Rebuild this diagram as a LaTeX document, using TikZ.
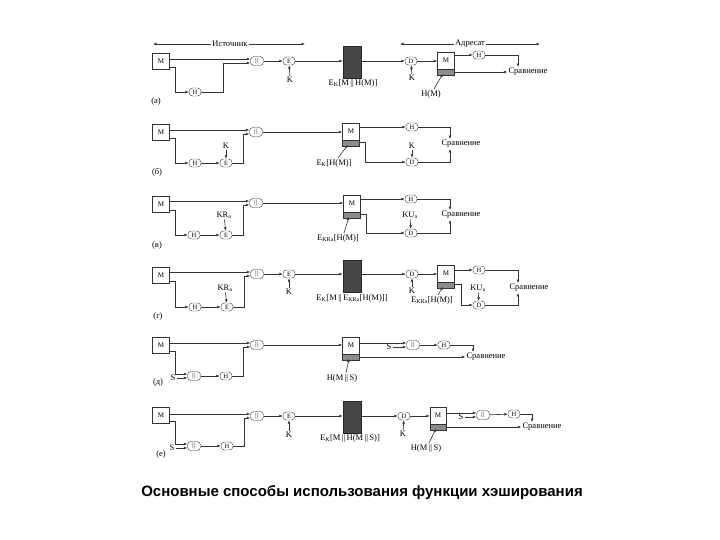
\documentclass[tikz,border=0pt]{standalone}
\usepackage{fontspec}
\setmainfont{Liberation Serif}
\newfontfamily\capfont{Liberation Sans}
\usetikzlibrary{arrows.meta, positioning, calc}
\newcommand{\catbar}{\textbar\kern0.8pt\textbar}
\tikzset{
  srcbox/.style={
    rectangle, draw=black!80, fill=white,
    minimum width=17pt, minimum height=16pt, inner sep=0pt,
    font=\fontsize{7}{8}\selectfont
  },
  recvbox/.style={
    rectangle, draw=black!80, fill=white,
    minimum width=17pt, minimum height=23pt, inner sep=0pt,
    text depth=8pt, font=\fontsize{7}{8}\selectfont,
    path picture={
      \fill[black!45] (path picture bounding box.south west)
        rectangle ([yshift=6pt]path picture bounding box.south east);
      \draw[black!80] ([yshift=6pt]path picture bounding box.south west)
        -- ([yshift=6pt]path picture bounding box.south east);
    }
  },
  opnode/.style={
    rectangle, rounded corners=3.5pt, draw=black!80, fill=white,
    minimum width=12pt, minimum height=8pt, inner sep=0pt,
    font=\fontsize{6.5}{7}\selectfont
  },
  catnode/.style={opnode, minimum width=13pt, minimum height=9pt},
  cipherbox/.style={
    rectangle, draw=black!85, fill=black!72,
    minimum width=18pt, minimum height=32pt
  },
  flowarrow/.style={-{Latex[length=3.5pt,width=2.8pt]}, black!80, line width=0.6pt},
  lbl/.style={font=\fontsize{8.5}{9}\selectfont, inner sep=1pt},
}

\begin{document}
\begin{tikzpicture}[x=1pt,y=-1pt]
\useasboundingbox (0,0) rectangle (720,540);

\node[lbl](srchead) at (230,44){Источник};
\coordinate (srcl) at (153,44);
\coordinate (srcr) at (305,44);
\draw[flowarrow](srchead.west)--(srcl);
\draw[flowarrow](srchead.east)--(srcr);
\node[lbl](dsthead) at (470,44){Адресат};
\coordinate (dstl) at (400,44);
\coordinate (dstr) at (540,44);
\draw[flowarrow](dsthead.west)--(dstl);
\draw[flowarrow](dsthead.east)--(dstr);

% (а)
\node[srcbox](ma) at (161,61){M};
\node[opnode](ha) at (195,92){H};
\node[catnode](ca) at (257,61){\catbar};
\node[opnode](ea) at (289,61){E};
\node[lbl](kea) at (290,80){K};
\node[cipherbox](xa) at (352,62){};
\node[lbl] at (353,83){E\textsubscript{K}[M\,||\,H(M)]};
\node[opnode](da) at (411,61){D};
\node[lbl](kda) at (412,78){K};
\node[recvbox](mra) at (446,64){M};
\node[opnode](hra) at (479,55){H};
\node[lbl](cmpa) at (528,72){Сравнение};
\node[lbl](hma) at (431,94){H(M)};
\node[lbl] at (156,101){(а)};
\coordinate (ca1) at ([yshift=2pt]ca.west);
\coordinate (ca2) at ([yshift=-2pt]ca.west);
\draw[flowarrow](ma.east |- ca1)--(ca1);
\draw[flowarrow]([yshift=2pt]ma.south east)--++(6,0)|-(ha);
\draw[flowarrow](ha.east)--++(22,0)|-(ca2);
\draw[flowarrow](ca)--(ea);
\draw[flowarrow](kea)--(ea);
\draw[flowarrow](ea)--(ea -| xa.west);
\draw[flowarrow](xa.east |- da)--(da);
\draw[flowarrow](kda)--(da);
\draw[flowarrow](da)--(da -| mra.west);
\draw[flowarrow](mra.east |- hra)--(hra);
\draw[flowarrow](hra.east)-|([xshift=-10pt]cmpa.north);
\draw[flowarrow](mra.east |- cmpa)--(cmpa.west);
\draw[flowarrow]([xshift=3pt]hma.north)--([xshift=-3pt,yshift=2pt]mra.south);

% (б)
\node[srcbox](mb) at (161,132){M};
\node[opnode](hb) at (195,163){H};
\node[opnode](eb) at (226,163){E};
\node[lbl](keb) at (226,146){K};
\node[catnode](cb) at (256,132){\catbar};
\node[recvbox](mrb) at (351,135){M};
\node[lbl](lb) at (334,163){E\textsubscript{K}[H(M)]};
\node[opnode](hrb) at (412,127){H};
\node[opnode](drb) at (412,162){D};
\node[lbl](kdb) at (412,146){K};
\node[lbl](cmpb) at (461,144){Сравнение};
\node[lbl] at (157,172){(б)};
\coordinate (cb1) at ([yshift=2pt]cb.west);
\coordinate (cb2) at ([yshift=-2pt]cb.west);
\draw[flowarrow](mb.east |- cb1)--(cb1);
\draw[flowarrow]([yshift=2pt]mb.south east)--++(6,0)|-(hb);
\draw[flowarrow](hb)--(eb);
\draw[flowarrow](keb)--(eb);
\draw[flowarrow](eb.east)--++(11,0)|-(cb2);
\draw[flowarrow](cb)--(cb -| mrb.west);
\draw[flowarrow](mrb.east |- hrb)--(hrb);
\draw[flowarrow]([yshift=4pt]mrb.south east)--++(6,0)|-(drb);
\draw[flowarrow](kdb)--(drb);
\draw[flowarrow](hrb.east)-|([xshift=-11pt]cmpb.north);
\draw[flowarrow](drb.east)-|([xshift=-11pt]cmpb.south);
\draw[flowarrow]([xshift=4pt]lb.north)--([xshift=-3pt,yshift=2pt]mrb.south);

% (в)
\node[srcbox](mc) at (161,204){M};
\node[opnode](hc) at (194,235){H};
\node[opnode](ec) at (226,235){E};
\node[lbl](kec) at (224,215){KR\textsubscript{a}};
\node[catnode](cc) at (256,203){\catbar};
\node[recvbox](mrc) at (352,207){M};
\node[lbl](lc) at (338,238){E\textsubscript{KRa}[H(M)]};
\node[opnode](hrc) at (411,199){H};
\node[opnode](drc) at (411,233){D};
\node[lbl](kdc) at (410,215){KU\textsubscript{a}};
\node[lbl](cmpc) at (461,215){Сравнение};
\node[lbl] at (157,245){(в)};
\coordinate (cc1) at ([yshift=2pt]cc.west);
\coordinate (cc2) at ([yshift=-2pt]cc.west);
\draw[flowarrow](mc.east |- cc1)--(cc1);
\draw[flowarrow]([yshift=2pt]mc.south east)--++(6,0)|-(hc);
\draw[flowarrow](hc)--(ec);
\draw[flowarrow](kec)--(ec);
\draw[flowarrow](ec.east)--++(11,0)|-(cc2);
\draw[flowarrow](cc)--(cc -| mrc.west);
\draw[flowarrow](mrc.east |- hrc)--(hrc);
\draw[flowarrow]([yshift=4pt]mrc.south east)--++(6,0)|-(drc);
\draw[flowarrow](kdc)--(drc);
\draw[flowarrow](hrc.east)-|([xshift=-11pt]cmpc.north);
\draw[flowarrow](drc.east)-|([xshift=-11pt]cmpc.south);
\draw[flowarrow]([xshift=6pt]lc.north)--([xshift=-3pt,yshift=2pt]mrc.south);

% (г)
\node[srcbox](md) at (161,275){M};
\node[opnode](hd) at (195,307){H};
\node[opnode](ed) at (227,307){E};
\node[lbl](ked) at (225,288){KR\textsubscript{a}};
\node[catnode](cd) at (257,274){\catbar};
\node[opnode](encd) at (289,274){E};
\node[lbl](kencd) at (289,292){K};
\node[cipherbox](xd) at (352,276){};
\node[lbl] at (352,298){E\textsubscript{K}[M\,||\,E\textsubscript{KRa}[H(M)]]};
\node[opnode](dd) at (412,274){D};
\node[lbl](kdd) at (412,291){K};
\node[recvbox](mrd) at (446,277){M};
\node[lbl](lrd) at (432,300){E\textsubscript{KRa}[H(M)]};
\node[opnode](hrd) at (479,270){H};
\node[opnode](d2d) at (479,305){D};
\node[lbl](kud) at (478,288){KU\textsubscript{a}};
\node[lbl](cmpd) at (529,288){Сравнение};
\node[lbl] at (158,316){(г)};
\coordinate (cd1) at ([yshift=2pt]cd.west);
\coordinate (cd2) at ([yshift=-2pt]cd.west);
\draw[flowarrow](md.east |- cd1)--(cd1);
\draw[flowarrow]([yshift=2pt]md.south east)--++(6,0)|-(hd);
\draw[flowarrow](hd)--(ed);
\draw[flowarrow](ked)--(ed);
\draw[flowarrow](ed.east)--++(11,0)|-(cd2);
\draw[flowarrow](cd)--(encd);
\draw[flowarrow](kencd)--(encd);
\draw[flowarrow](encd)--(encd -| xd.west);
\draw[flowarrow](xd.east |- dd)--(dd);
\draw[flowarrow](kdd)--(dd);
\draw[flowarrow](dd)--(dd -| mrd.west);
\draw[flowarrow](mrd.east |- hrd)--(hrd);
\draw[flowarrow]([yshift=4pt]mrd.south east)--++(7,0)|-(d2d);
\draw[flowarrow](kud)--(d2d);
\draw[flowarrow](hrd.east)-|([xshift=-11pt]cmpd.north);
\draw[flowarrow](d2d.east)-|([xshift=-11pt]cmpd.south);
\draw[flowarrow]([xshift=6pt]lrd.north)--([xshift=-3pt,yshift=2pt]mrd.south);

% (д)
\node[srcbox](me) at (161,345){M};
\node[catnode](cle) at (194,376){\catbar};
\node[lbl](se) at (173,378){S};
\node[opnode](hle) at (226,376){H};
\node[catnode](ce) at (257,345){\catbar};
\node[recvbox](mre) at (351,349){M};
\node[lbl](lre) at (342,378){H(M\,||\,S)};
\node[catnode](cre) at (413,345){\catbar};
\node[lbl](sre) at (389,347){S};
\node[opnode](hre) at (444,345){H};
\node[lbl](cmpe) at (486,357){Сравнение};
\node[lbl] at (158,382){(д)};
\coordinate (ce1) at ([yshift=2pt]ce.west);
\coordinate (ce2) at ([yshift=-2pt]ce.west);
\coordinate (cle1) at ([yshift=2pt]cle.west);
\coordinate (cre1) at ([yshift=2pt]cre.west);
\draw[flowarrow](me.east |- ce1)--(ce1);
\draw[flowarrow]([yshift=2pt]me.south east)--++(6,0)|-(cle1);
\draw[flowarrow](se)--(se -| cle.west);
\draw[flowarrow](cle)--(hle);
\draw[flowarrow](hle.east)--++(11,0)|-(ce2);
\draw[flowarrow](ce)--(ce -| mre.west);
\draw[flowarrow](mre.east |- cre1)--(cre1);
\draw[flowarrow](sre)--(sre -| cre.west);
\draw[flowarrow](cre)--(hre);
\draw[flowarrow](hre.east)-|([xshift=-13pt]cmpe.north);
\draw[flowarrow](mre.east |- cmpe)--(cmpe.west);
\draw[flowarrow]([xshift=4pt]lre.north)--([xshift=-2pt,yshift=2pt]mre.south);

% (е)
\node[srcbox](mf) at (161,415){M};
\node[catnode](clf) at (194,446){\catbar};
\node[lbl](sf) at (172,448){S};
\node[opnode](hlf) at (227,446){H};
\node[catnode](cf) at (257,416){\catbar};
\node[opnode](encf) at (289,416){E};
\node[lbl](kencf) at (289,435){K};
\node[cipherbox](xf) at (352,417){};
\node[lbl] at (350,438){E\textsubscript{K}[M\,||\,H(M\,||\,S)]};
\node[opnode](df) at (404,416){D};
\node[lbl](kdf) at (403,434){K};
\node[recvbox,minimum width=16pt](mrf) at (438,419){M};
\node[lbl](lrf) at (426,448){H(M\,||\,S)};
\node[catnode](crf) at (483,415){\catbar};
\node[lbl](srf) at (461,417){S};
\node[opnode](hrf) at (514,414){H};
\node[lbl](cmpf) at (542,427){Сравнение};
\node[lbl] at (161,454){(е)};
\coordinate (cf1) at ([yshift=2pt]cf.west);
\coordinate (cf2) at ([yshift=-2pt]cf.west);
\coordinate (clf1) at ([yshift=2pt]clf.west);
\coordinate (crf1) at ([yshift=2pt]crf.west);
\draw[flowarrow](mf.east |- cf1)--(cf1);
\draw[flowarrow]([yshift=2pt]mf.south east)--++(6,0)|-(clf1);
\draw[flowarrow](sf)--(sf -| clf.west);
\draw[flowarrow](clf)--(hlf);
\draw[flowarrow](hlf.east)--++(11,0)|-(cf2);
\draw[flowarrow](cf)--(encf);
\draw[flowarrow](kencf)--(encf);
\draw[flowarrow](encf)--(encf -| xf.west);
\draw[flowarrow](xf.east |- df)--(df);
\draw[flowarrow](kdf)--(df);
\draw[flowarrow](df)--(df -| mrf.west);
\draw[flowarrow](mrf.east |- crf1)--(crf1);
\draw[flowarrow](srf)--(srf -| crf.west);
\draw[flowarrow](crf)--(hrf);
\draw[flowarrow](hrf.east)-|([xshift=-10pt]cmpf.north);
\draw[flowarrow](mrf.east |- cmpf)--(cmpf.west);
\draw[flowarrow]([xshift=3pt]lrf.north)--([xshift=-2pt,yshift=2pt]mrf.south);

\node[font=\capfont\bfseries\fontsize{15}{17}\selectfont](caption) at (362,493)
  {Основные способы использования функции хэширования};
\end{tikzpicture}
\end{document}
